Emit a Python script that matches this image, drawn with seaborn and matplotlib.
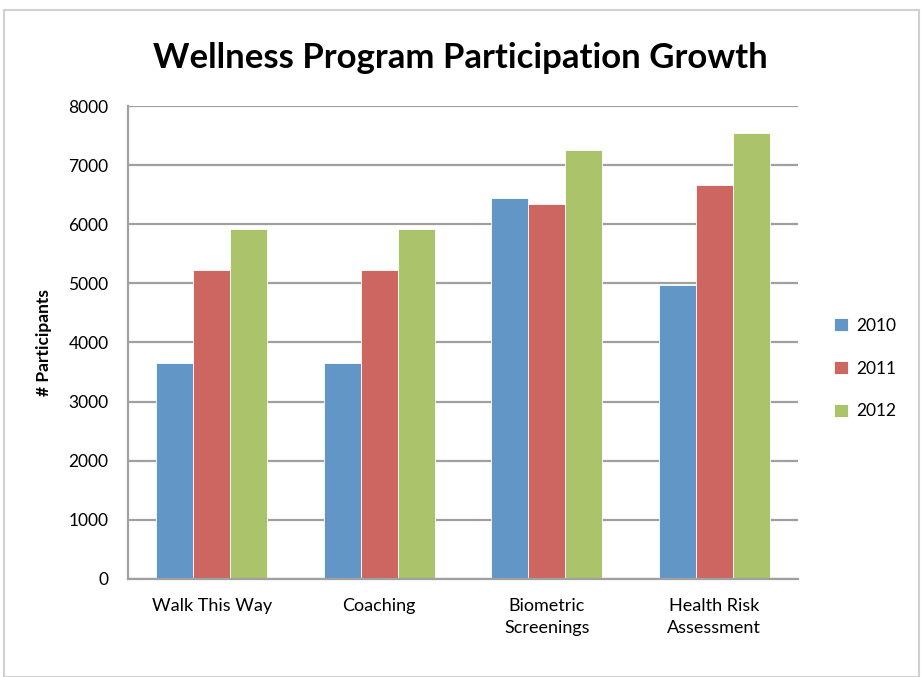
import numpy as np
import pandas as pd
import matplotlib
matplotlib.use('Agg')
import matplotlib.pyplot as plt
from matplotlib.patches import Rectangle
import seaborn as sns

programs = ['Walk This Way', 'Coaching', 'Biometric\nScreenings', 'Health Risk\nAssessment']
years = ['2010', '2011', '2012']
vals_2010 = [3650, 3650, 6450, 4980]
vals_2011 = [5230, 5230, 6340, 6660]
vals_2012 = [5920, 5920, 7260, 7540]
colors = ['#6196C7', '#CD6660', '#ABC46C']

df = pd.DataFrame({
    'program': programs * 3,
    'year': np.repeat(years, len(programs)),
    'participants': vals_2010 + vals_2011 + vals_2012,
})

sns.set_style('white')
plt.rcParams['font.family'] = ['Lato', 'DejaVu Sans']
plt.rcParams['text.color'] = 'black'
plt.rcParams['xtick.color'] = 'black'
plt.rcParams['ytick.color'] = 'black'
plt.rcParams['axes.labelcolor'] = 'black'

fig = plt.figure(figsize=(9.23, 6.77), dpi=100)
ax = fig.add_axes([0.1387, 0.1448, 0.7259, 0.6986])

sns.barplot(data=df, x='program', y='participants', hue='year', palette=colors,
            width=0.66, gap=0, edgecolor='white', linewidth=0.6, saturation=1, ax=ax)

ax.set_ylim(0, 8000)
ax.set_yticks(range(0, 8001, 1000))
ax.set_xlim(-0.5, 3.5)
ax.yaxis.grid(True, color='#A0A0A0', linewidth=1.6)
ax.set_axisbelow(True)
for s in ['top', 'right']:
    ax.spines[s].set_visible(False)
for s in ['left', 'bottom']:
    ax.spines[s].set_color('#A0A0A0')
    ax.spines[s].set_linewidth(1.6)
ax.tick_params(axis='y', length=0, pad=14, labelsize=12.5)
ax.tick_params(axis='x', length=0, pad=14, labelsize=13)
for lbl in ax.get_xticklabels():
    lbl.set_linespacing(1.45)

ax.set_xlabel('')
ax.set_ylabel('# Participants', fontsize=12.5, fontweight='bold', labelpad=12)
fig.text(0.4989, 0.915, 'Wellness Program Participation Growth', ha='center', va='center',
         fontsize=25, fontweight='bold')

ax.legend(frameon=False, loc='center left', bbox_to_anchor=(1.03, 0.445), fontsize=12.5,
          handlelength=0.8, handleheight=0.8, labelspacing=1.55, handletextpad=0.5)

fig.patches.append(Rectangle((0.004, 0.0), 0.992, 0.985, transform=fig.transFigure,
                             fill=False, edgecolor='#D0D0D0', linewidth=1.5))

fig.savefig('out.png', dpi=100)
